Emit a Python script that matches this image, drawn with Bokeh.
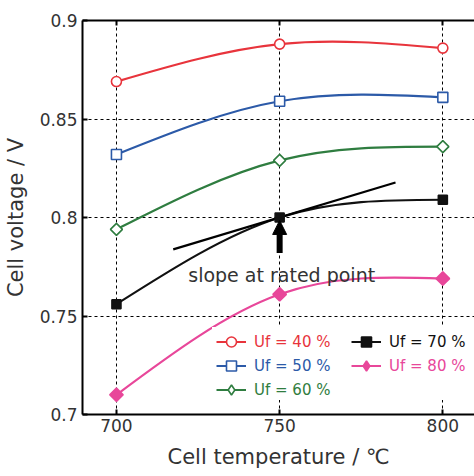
import numpy as np
from bokeh.plotting import figure
from bokeh.models import (ColumnDataSource, Range1d, LinearAxis, FixedTicker, Legend,
                          LegendItem, Arrow, NormalHead)
from bokeh.core.properties import value
from bokeh.embed import file_html
from bokeh.resources import INLINE

# ---------------- data ----------------
temps = [700, 750, 800]
uf_labels = ["Uf = 40 %", "Uf = 50 %", "Uf = 60 %", "Uf = 70 %", "Uf = 80 %"]
uf40 = [0.869, 0.888, 0.886]
uf50 = [0.832, 0.859, 0.861]
uf60 = [0.794, 0.829, 0.836]
uf70 = [0.756, 0.800, 0.809]
uf80 = [0.710, 0.761, 0.769]
x_ticks = [700, 750, 800]
y_ticks = [0.7, 0.75, 0.8, 0.85, 0.9]
y_tick_labels = ["0.7", "0.75", "0.8", "0.85", "0.9"]
x_title = "Cell temperature / ℃"
y_title = "Cell voltage / V"
tangent_x = [717.4, 785.5]
tangent_y = [0.7838, 0.8178]
rated_x = 750
arrow_y = [0.782, 0.7985]
note_text = "slope at rated point"
note_x = 722.0
note_y = 0.7706

FONT = "DejaVu Sans"
TXT = "#333333"
colors = ["#e8343c", "#2c5aa8", "#2f7d40", "#111111", "#e8479a"]
series = [uf40, uf50, uf60, uf70, uf80]

p = figure(width=474, height=476, output_backend="svg", toolbar_location=None,
           x_range=Range1d(689.6, 809.7), y_range=Range1d(0.7, 0.9),
           min_border_left=81, min_border_right=0, min_border_top=20, min_border_bottom=62)
p.outline_line_color = None
p.background_fill_color = "white"

# axes
xa = p.xaxis[0]
ya = p.yaxis[0]
xa.ticker = FixedTicker(ticks=x_ticks)
ya.ticker = FixedTicker(ticks=y_ticks)
ya.major_label_overrides = {t: l for t, l in zip(y_ticks, y_tick_labels)}
for ax in (xa, ya):
    ax.axis_line_width = 2
    ax.axis_line_color = "black"
    ax.major_tick_in = 5
    ax.major_tick_out = 0
    ax.major_tick_line_width = 2
    ax.minor_tick_line_color = None
    ax.major_label_text_font = FONT
    ax.major_label_text_font_size = "17px"
    ax.major_label_text_color = TXT
    ax.axis_label_text_font = FONT
    ax.axis_label_text_font_size = "21px"
    ax.axis_label_text_font_style = "normal"
    ax.axis_label_text_color = TXT
xa.axis_label = x_title
ya.axis_label = y_title
xa.major_label_standoff = 4
xa.axis_label_standoff = 10
ya.major_label_standoff = 5
ya.axis_label_standoff = 9

top = LinearAxis(ticker=FixedTicker(ticks=x_ticks),
                 major_label_overrides={t: "" for t in x_ticks},
                 major_label_standoff=0, major_tick_in=5, major_tick_out=0,
                 major_tick_line_width=2, axis_line_width=2, minor_tick_line_color=None)
p.add_layout(top, "above")

# grid
p.xgrid.ticker = FixedTicker(ticks=x_ticks)
p.ygrid.ticker = FixedTicker(ticks=y_ticks)
for g in (p.xgrid[0], p.ygrid[0]):
    g.grid_line_color = "black"
    g.grid_line_dash = "3 3"
    g.grid_line_width = 1

# smooth curves: natural cubic spline through the data points, drawn as Bezier segments
def spline_source(xs, ys):
    xs = np.asarray(xs, float)
    ys = np.asarray(ys, float)
    n = len(xs)
    h = np.diff(xs)
    A = np.zeros((n, n))
    b = np.zeros(n)
    A[0, 0] = A[-1, -1] = 1.0
    for i in range(1, n - 1):
        A[i, i - 1] = h[i - 1]
        A[i, i] = 2 * (h[i - 1] + h[i])
        A[i, i + 1] = h[i]
        b[i] = 6 * ((ys[i + 1] - ys[i]) / h[i] - (ys[i] - ys[i - 1]) / h[i - 1])
    M = np.linalg.solve(A, b)
    d = dict(x0=[], y0=[], x1=[], y1=[], cx0=[], cy0=[], cx1=[], cy1=[])
    for i in range(n - 1):
        hi = h[i]
        sec = (ys[i + 1] - ys[i]) / hi
        s0 = sec - hi * (2 * M[i] + M[i + 1]) / 6
        s1 = sec + hi * (M[i] + 2 * M[i + 1]) / 6
        d["x0"].append(xs[i]); d["y0"].append(ys[i])
        d["x1"].append(xs[i + 1]); d["y1"].append(ys[i + 1])
        d["cx0"].append(xs[i] + hi / 3); d["cy0"].append(ys[i] + s0 * hi / 3)
        d["cx1"].append(xs[i + 1] - hi / 3); d["cy1"].append(ys[i + 1] - s1 * hi / 3)
    return ColumnDataSource(d)

marker_specs = [
    dict(marker="circle", size=10, fill_color="white", angle=0, legend_marker="circle"),
    dict(marker="square", size=10, fill_color="white", angle=0, legend_marker="square"),
    dict(marker="square", size=8.5, fill_color="white", angle=np.pi / 4, legend_marker="diamond"),
    dict(marker="square", size=9, fill_color=colors[3], angle=0, legend_marker="square"),
    dict(marker="square", size=9.5, fill_color=colors[4], angle=np.pi / 4, legend_marker="diamond"),
]

legend_lines = []
for ys, c in zip(series, colors):
    src = spline_source(temps, ys)
    p.bezier(x0="x0", y0="y0", x1="x1", y1="y1", cx0="cx0", cy0="cy0", cx1="cx1", cy1="cy1",
             source=src, line_color=c, line_width=2.2)
    ghost = p.line(temps, ys, line_color=c, line_width=2)
    ghost.visible = False
    legend_lines.append(ghost)

# tangent line at the rated point
p.line(tangent_x, tangent_y, line_color="black", line_width=2.2)

legend_marks = []
for ys, c, ms in zip(series, colors, marker_specs):
    p.scatter(temps, ys, marker=ms["marker"], size=ms["size"], angle=ms["angle"],
              line_color=c, fill_color=ms["fill_color"], line_width=1.6)
    lm = p.scatter(temps, ys, marker=ms["legend_marker"], size=ms["size"],
                   line_color=c, fill_color=ms["fill_color"], line_width=1.6)
    lm.visible = False
    legend_marks.append(lm)

# arrow + note
p.add_layout(Arrow(end=NormalHead(size=14, fill_color="black", line_color="black"),
                   x_start=rated_x, y_start=arrow_y[0], x_end=rated_x, y_end=arrow_y[1],
                   line_width=6, line_color="black"))
p.text(x=[note_x], y=[note_y], text=[note_text], text_font=value(FONT),
       text_font_size="19px", text_color=TXT, text_baseline="alphabetic", text_align="left")

# white legend background box
bg = Legend(items=[LegendItem(label=value(" "), renderers=[legend_lines[0]])],
            location=(130, 14), padding=0, margin=0, spacing=0, border_line_color=None,
            background_fill_color="white", background_fill_alpha=1.0,
            glyph_width=0, glyph_height=73, label_width=263, label_height=73,
            label_standoff=0, label_text_font_size="1px")
p.add_layout(bg)

# legends (one per item so that each label has its series colour)
legend_locs = [(134, 60), (134, 36), (134, 12), (269, 60), (269, 36)]
for lab, c, gl, gm, loc in zip(uf_labels, colors, legend_lines, legend_marks, legend_locs):
    leg = Legend(items=[LegendItem(label=value(lab), renderers=[gl, gm])], location=loc,
                 padding=0, margin=0, spacing=0, border_line_color=None,
                 background_fill_alpha=0, glyph_width=30, glyph_height=25, label_height=25,
                 label_standoff=8, label_text_color=c, label_text_font=FONT,
                 label_text_font_size="15px")
    p.add_layout(leg)

open("out.html", "w").write(file_html(p, INLINE))
